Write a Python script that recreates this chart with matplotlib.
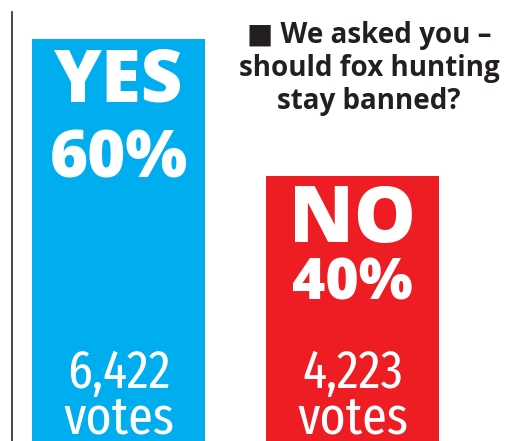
import matplotlib
matplotlib.use("Agg")
import matplotlib.pyplot as plt
from matplotlib import font_manager as fm
from matplotlib.transforms import blended_transform_factory

labels = ["YES", "NO"]
percents = [60, 40]
votes = ["6,422", "4,223"]
colors = ["#00AEEF", "#EE1D23"]
title_lines = ["\u25A0 We asked you \u2013", "should fox hunting", "stay banned?"]

names = {f.name for f in fm.fontManager.ttflist}
def pick(*cands):
    for c in cands:
        if c in names:
            return c
    return "DejaVu Sans"

heavy = pick("Open Sans", "Lato", "DejaVu Sans")
cond = pick("Fira Sans Extra Condensed", "Fira Sans Condensed", "Roboto Condensed", "DejaVu Sans")
titlef = pick("Open Sans", "Lato", "DejaVu Sans")

W, H = 505, 441
fig = plt.figure(figsize=(W / 100, H / 100), dpi=100)
fig.patch.set_facecolor("white")

# axes in pixel geometry; baseline just below image
top_px, base_px = 39, 450
ax = fig.add_axes([0, (H - base_px) / H, 1, (base_px - top_px) / H])
ax.set_ylim(0, 60)
spacing = 234.0
c0 = 118.5
ax.set_xlim(-c0 / spacing, (W - c0) / spacing)
ax.bar(range(len(labels)), percents, width=173 / spacing, color=colors)
ax.axis("off")

# left rule
fig.add_artist(plt.Line2D([11.5 / W, 11.5 / W], [0, 1 - 12 / H],
                          color="#3a3a3a", lw=1.3, transform=fig.transFigure))

tr = blended_transform_factory(ax.transData, fig.transFigure)
def fy(p):
    return 1 - p / H

# (label baseline, label size, pct baseline, pct size)
big = [(102, 52, 178, 47), (242, 56, 300, 41)]
for i, (lab, pct, v) in enumerate(zip(labels, percents, votes)):
    b1, s1, b2, s2 = big[i]
    ax.text(i, fy(b1), lab, transform=tr, ha="center", va="baseline",
            color="white", fontsize=s1, fontweight="heavy",
            family=[heavy, "DejaVu Sans"])
    ax.text(i, fy(b2), f"{pct}%", transform=tr, ha="center", va="baseline",
            color="white", fontsize=s2, fontweight="heavy",
            family=[heavy, "DejaVu Sans"])
    ax.text(i, fy(388), v, transform=tr, ha="center", va="baseline",
            color="white", fontsize=39, fontweight="normal",
            family=[cond, "DejaVu Sans"])
    ax.text(i, fy(434), "votes", transform=tr, ha="center", va="baseline",
            color="white", fontsize=39, fontweight="normal",
            family=[cond, "DejaVu Sans"])

for k, line in enumerate(title_lines):
    fig.text(369 / W, fy(43 + 33 * k), line, ha="center", va="baseline",
             color="#231F20", fontsize=20, fontweight="bold",
             family=[titlef, "DejaVu Sans"])

fig.savefig("out.png", dpi=100)
